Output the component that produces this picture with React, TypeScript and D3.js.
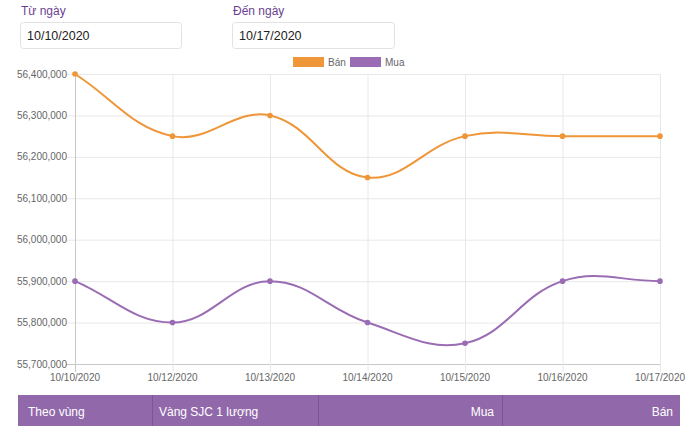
import React from "react";
import * as d3 from "d3";

const dates = ["10/10/2020", "10/12/2020", "10/13/2020", "10/14/2020", "10/15/2020", "10/16/2020", "10/17/2020"];
const banValues = [56400000, 56250000, 56300000, 56150000, 56250000, 56250000, 56250000];
const muaValues = [55900000, 55800000, 55900000, 55800000, 55750000, 55900000, 55900000];
const yTicks = [55700000, 55800000, 55900000, 56000000, 56100000, 56200000, 56300000, 56400000];
const seriesNames = ["Bán", "Mua"];
const tableHeaders = ["Theo vùng", "Vàng SJC 1 lượng", "Mua", "Bán"];

const W = 698, H = 426;
const ORANGE = "#ee9638";
const PURPLE = "#9a6cb4";
const FONT = "'Liberation Sans', Arial, Helvetica, sans-serif";

function splinePath(pts: [number, number][], t = 0.4): string {
  const p = d3.path();
  const cps = pts.map((cur, i) => {
    const prev = pts[i - 1] || cur;
    const next = pts[i + 1] || cur;
    const d01 = Math.hypot(cur[0] - prev[0], cur[1] - prev[1]);
    const d12 = Math.hypot(next[0] - cur[0], next[1] - cur[1]);
    let s01 = d01 / (d01 + d12);
    let s12 = d12 / (d01 + d12);
    if (!isFinite(s01)) s01 = 0;
    if (!isFinite(s12)) s12 = 0;
    const fa = t * s01, fb = t * s12;
    return {
      prev: [cur[0] - fa * (next[0] - prev[0]), cur[1] - fa * (next[1] - prev[1])],
      next: [cur[0] + fb * (next[0] - prev[0]), cur[1] + fb * (next[1] - prev[1])],
    };
  });
  pts.forEach((pt, i) => {
    if (i === 0) p.moveTo(pt[0], pt[1]);
    else {
      const a = cps[i - 1].next, b = cps[i].prev;
      p.bezierCurveTo(a[0], a[1], b[0], b[1], pt[0], pt[1]);
    }
  });
  return p.toString();
}

export default function App() {
  const x = d3.scalePoint<string>().domain(dates).range([75, 660]);
  const y = d3.scaleLinear().domain([55700000, 56400000]).range([364, 74]);
  const fmt = d3.format(",");
  const series = [
    { name: seriesNames[0], values: banValues, color: ORANGE },
    { name: seriesNames[1], values: muaValues, color: PURPLE },
  ];
  const colX = [18, 152, 318, 502, 680];
  return (
    <svg width={W} height={H} style={{ position: "absolute", left: 0, top: 0, background: "#fff" }} fontFamily={FONT}>
      {/* date inputs */}
      <text x={21} y={15} fontSize={12} fill="#6b3f93">Từ ngày</text>
      <rect x={20.5} y={22.5} width={161} height={26} rx={3} fill="#fff" stroke="#e2e2e2" />
      <text x={27} y={40} fontSize={12.5} fill="#222">10/10/2020</text>
      <text x={233} y={15} fontSize={12} fill="#6b3f93">Đến ngày</text>
      <rect x={232.5} y={22.5} width={162} height={26} rx={3} fill="#fff" stroke="#e2e2e2" />
      <text x={239} y={40} fontSize={12.5} fill="#222">10/17/2020</text>

      {/* legend */}
      {series.map((s, i) => (
        <g key={s.name}>
          <rect x={293 + i * 57} y={57} width={31} height={10} fill={s.color} />
          <text x={328 + i * 57} y={66} fontSize={10} fill="#666">{s.name}</text>
        </g>
      ))}

      {/* grid */}
      {yTicks.map((v) => (
        <g key={v}>
          <line x1={66} x2={660} y1={y(v) + 0.5} y2={y(v) + 0.5} stroke={v === 55700000 ? "#c8c8c8" : "#e8e8e8"} />
          <text x={67} y={y(v) + 3.5} fontSize={10} fill="#666" textAnchor="end">{fmt(v)}</text>
        </g>
      ))}
      {dates.map((d) => (
        <g key={d}>
          <line x1={x(d)! + 0.5} x2={x(d)! + 0.5} y1={74} y2={372} stroke={d === dates[0] ? "#c8c8c8" : "#e8e8e8"} />
          <text x={x(d)!} y={381} fontSize={10} fill="#666" textAnchor="middle">{d}</text>
        </g>
      ))}

      {/* series */}
      {series.map((s) => {
        const pts = s.values.map((v, i) => [x(dates[i])!, y(v)] as [number, number]);
        return (
          <g key={s.name}>
            <path d={splinePath(pts)} fill="none" stroke={s.color} strokeWidth={2} />
            {pts.map((p, i) => (
              <circle key={i} cx={p[0]} cy={p[1]} r={2.8} fill={s.color} />
            ))}
          </g>
        );
      })}

      {/* table header */}
      <rect x={colX[0]} y={395} width={colX[4] - colX[0]} height={31} fill="#9169aa" />
      {colX.slice(1, 4).map((cx) => (
        <line key={cx} x1={cx + 0.5} x2={cx + 0.5} y1={395} y2={426} stroke="#7d5596" />
      ))}
      <text x={28} y={416} fontSize={12} fill="#fff">{tableHeaders[0]}</text>
      <text x={159} y={416} fontSize={12} fill="#fff">{tableHeaders[1]}</text>
      <text x={494} y={416} fontSize={12} fill="#fff" textAnchor="end">{tableHeaders[2]}</text>
      <text x={673} y={416} fontSize={12} fill="#fff" textAnchor="end">{tableHeaders[3]}</text>
    </svg>
  );
}
